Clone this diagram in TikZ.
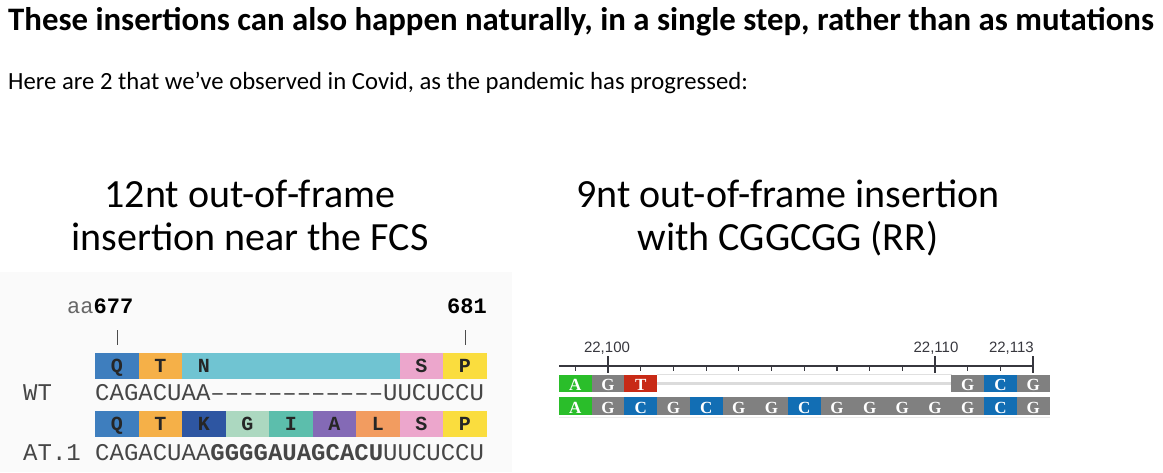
\documentclass[tikz,border=0pt]{standalone}
\usepackage{xcolor}
\usepackage{fontspec}
\setmainfont{Carlito}
\setmonofont{Liberation Mono}
\newfontfamily\axisfont{Liberation Sans}
\newfontfamily\basefont{Liberation Serif}
\usepackage{tikz}
\usetikzlibrary{positioning}
% amino acid colours
\definecolor{aaQ}{RGB}{62,126,190}
\definecolor{aaT}{RGB}{245,176,72}
\definecolor{aaN}{RGB}{112,196,210}
\definecolor{aaS}{RGB}{236,166,204}
\definecolor{aaP}{RGB}{250,221,62}
\definecolor{aaK}{RGB}{46,86,162}
\definecolor{aaG}{RGB}{172,216,192}
\definecolor{aaI}{RGB}{92,190,172}
\definecolor{aaA}{RGB}{132,106,182}
\definecolor{aaL}{RGB}{242,156,96}
% nucleotide colours
\definecolor{ntA}{RGB}{42,190,42}
\definecolor{ntG}{RGB}{128,128,128}
\definecolor{ntT}{RGB}{200,42,22}
\definecolor{ntC}{RGB}{18,110,180}
\definecolor{seqgray}{RGB}{70,70,70}
\definecolor{axisgray}{RGB}{55,55,62}

\begin{document}
\begin{tikzpicture}[x=1pt, y=-1pt,
  txt/.style={inner sep=0pt, anchor=base},
  heading/.style={txt, font=\fontsize{40}{46}\selectfont},
  seq/.style={txt, anchor=base west, text=seqgray, font=\fontsize{24}{28}\selectfont\ttfamily},
  aaletter/.style={txt, text=black!85, font=\fontsize{20}{24}\selectfont\ttfamily\bfseries},
  ntletter/.style={txt, text=white, font=\fontsize{17}{19}\selectfont\basefont\bfseries},
  poslabel/.style={txt, text=axisgray, font=\fontsize{15}{18}\selectfont\axisfont}]
\useasboundingbox (0,0) rectangle (1163,472);
% page texts
\node[txt, anchor=base west, font=\fontsize{32.8}{38}\selectfont\bfseries] (title) at (8,30)
  {These insertions can also happen naturally, in a single step, rather than as mutations};
\node[txt, anchor=base west, font=\fontsize{24.7}{28}\selectfont] (intro) at (8,89)
  {Here are 2 that we’ve observed in Covid, as the pandemic has progressed:};
\node[heading] (lefthead1) at (250,207) {12nt out-of-frame};
\node[heading] (lefthead2) at (250,250) {insertion near the FCS};
\node[heading] (righthead1) at (788,207) {9nt out-of-frame insertion};
\node[heading] (righthead2) at (788,250) {with CGGCGG (RR)};

% left panel: amino acid alignment
\fill[black!2] (0,272) rectangle (512,472);
\node[txt, anchor=base west, font=\fontsize{22}{26}\selectfont\ttfamily] (aastart) at (67,313)
  {\textcolor{black!60}{aa}\textbf{677}};
\node[txt, anchor=base east, font=\fontsize{22}{26}\selectfont\ttfamily\bfseries] (aaend) at (487,313) {681};
\draw[black!70, line width=1pt] (117,330) -- (117,345);
\draw[black!70, line width=1pt] (465,330) -- (465,345);
\foreach \a/\b/\c/\l in {0/1/aaQ/Q, 1/2/aaT/T, 2/7/aaN/N, 7/8/aaS/S, 8/9/aaP/P}{
  \fill[\c] ({95+43.5*\a},353) rectangle ({95+43.5*\b},379);
  \node[aaletter] (wt-\a) at ({116.75+43.5*\a},372) {\l};
}
\foreach \a/\c/\l in {0/aaQ/Q, 1/aaT/T, 2/aaK/K, 3/aaG/G, 4/aaI/I, 5/aaA/A, 6/aaL/L, 7/aaS/S, 8/aaP/P}{
  \fill[\c] ({95+43.5*\a},411) rectangle ({95+43.5*(\a+1)},437);
  \node[aaletter] (at-\a) at ({116.75+43.5*\a},430) {\l};
}
\node[seq] (wtname) at (23,400) {WT};
\node[seq] (wtseq) at (95,400) {CAGACUAA––––––––––––UUCUCCU};
\node[seq] (atname) at (23,460) {AT.1};
\node[seq] (atseq) at (95,460) {CAGACUAA\textbf{GGGGAUAGCACU}UUCUCCU};

% right panel: nucleotide track
\draw[axisgray, line width=1.4pt] (559,366) -- (1034,366);
\foreach \i in {0,2,3,4,5,6,7,8,9,10,12,13}{
  \draw[axisgray, line width=1.2pt] ({575.35+32.7*\i},366) -- ({575.35+32.7*\i},371);
}
\foreach \i in {1,11,14}{
  \draw[axisgray, line width=1.6pt] ({575.35+32.7*\i},356) -- ({575.35+32.7*\i},373);
}
\node[poslabel] (pos100) at (607,352) {22,100};
\node[poslabel] (pos110) at (936,352) {22,110};
\node[poslabel, anchor=base east] (pos113) at (1034,352) {22,113};
\draw[black!12, line width=0.6pt] (657,374) -- (952,374);
\draw[black!14, line width=3pt] (657,383) -- (952,383);
\foreach \i/\c/\l in {0/ntA/A, 1/ntG/G, 2/ntT/T, 12/ntG/G, 13/ntC/C, 14/ntG/G}{
  \fill[\c] ({559+32.7*\i},375) rectangle ({559+32.7*(\i+1)},392);
  \node[ntletter] (ref-\i) at ({575.35+32.7*\i},390.5) {\l};
}
\foreach \i/\c/\l in {0/ntA/A, 1/ntG/G, 2/ntC/C, 3/ntG/G, 4/ntC/C, 5/ntG/G, 6/ntG/G, 7/ntC/C,
                      8/ntG/G, 9/ntG/G, 10/ntG/G, 11/ntG/G, 12/ntG/G, 13/ntC/C, 14/ntG/G}{
  \fill[\c] ({559+32.7*\i},397) rectangle ({559+32.7*(\i+1)},415);
  \node[ntletter] (ins-\i) at ({575.35+32.7*\i},413.5) {\l};
}
\draw[black!8, line width=1pt] (559,417) -- (1049.5,417);
\end{tikzpicture}
\end{document}
